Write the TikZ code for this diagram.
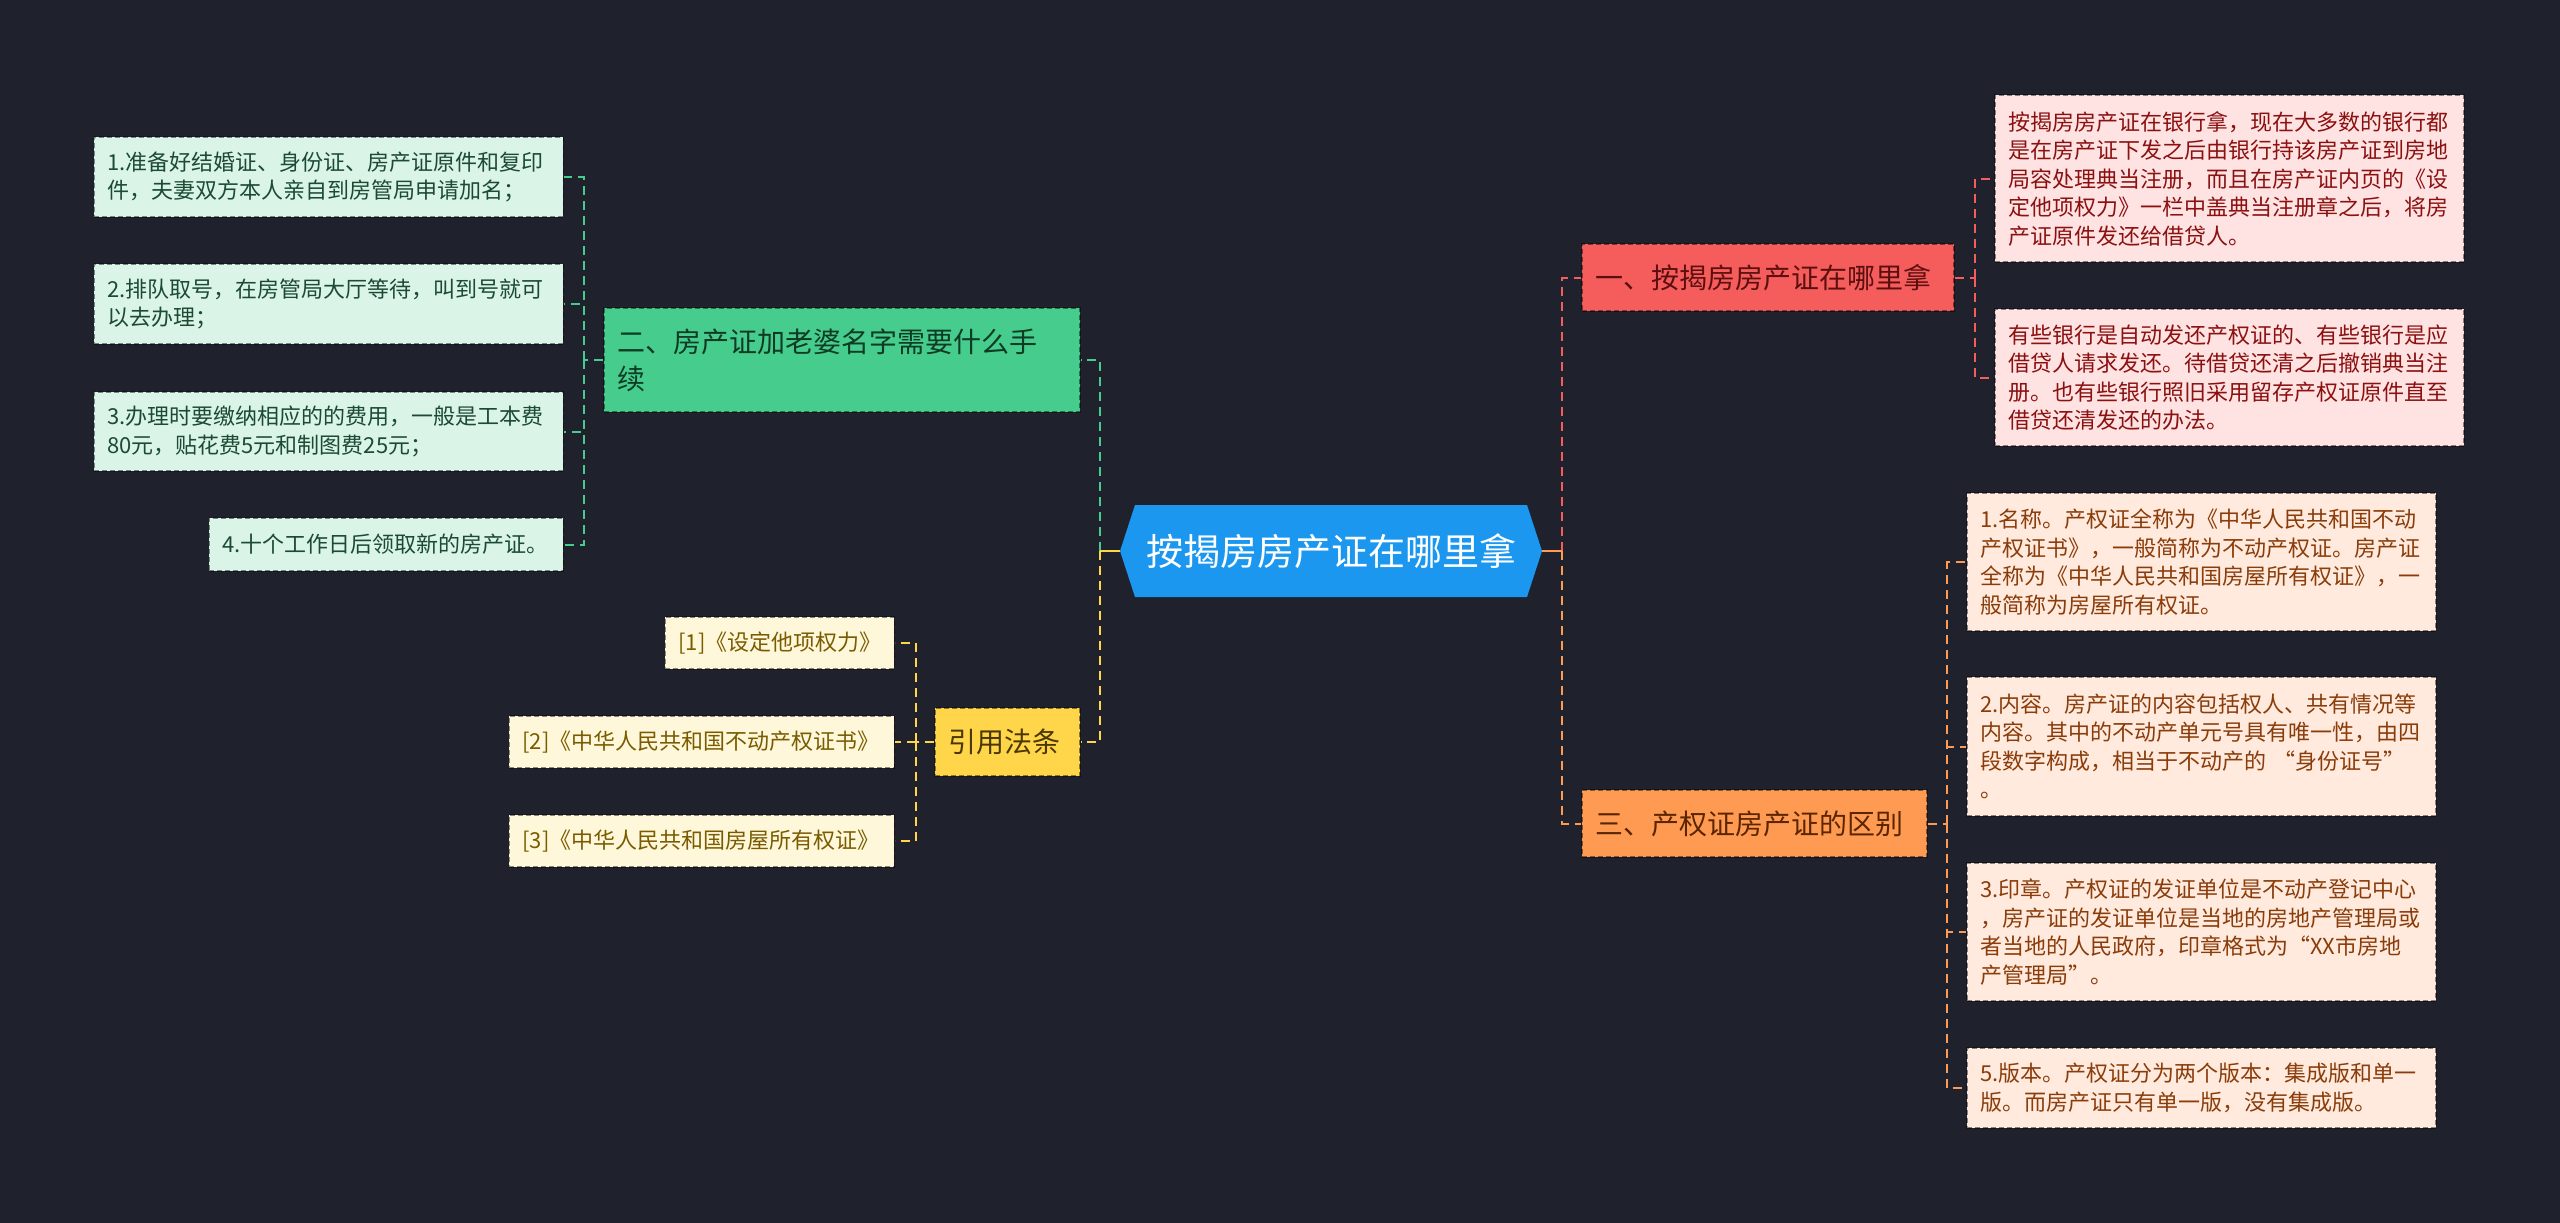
\documentclass[tikz,border=0pt]{standalone}
\usepackage{fontspec}
\setmainfont{Noto Sans CJK SC}
\definecolor{bgc}{HTML}{1F222D}
\definecolor{cblue}{HTML}{1C97EF}
\definecolor{redn}{HTML}{F55C5C}
\definecolor{redt}{HTML}{5C0F0F}
\definecolor{pinkf}{HTML}{FFE3E3}
\definecolor{pinkt}{HTML}{8B1010}
\definecolor{orn}{HTML}{FF9A52}
\definecolor{ort}{HTML}{5A2500}
\definecolor{peachf}{HTML}{FFEADD}
\definecolor{peacht}{HTML}{8A3C0A}
\definecolor{grn}{HTML}{46CC8C}
\definecolor{grt}{HTML}{0E3B23}
\definecolor{mintf}{HTML}{DAF5E8}
\definecolor{mintt}{HTML}{1C4A33}
\definecolor{yln}{HTML}{FFD54A}
\definecolor{ylt}{HTML}{4A3800}
\definecolor{creamf}{HTML}{FFF7D9}
\definecolor{creamt}{HTML}{7A5C00}
\begin{document}
\begin{tikzpicture}[x=1pt,y=-1pt,
  box/.style={rectangle, inner xsep=13pt, inner ysep=0pt, align=left,
    draw=black, draw opacity=0.45, dash pattern=on 5pt off 3pt, line width=1.3pt},
  topic/.style={box, font=\fontsize{28}{37}\selectfont},
  leaf/.style={box, font=\fontsize{22}{28.5}\selectfont},
  conn/.style={line width=2pt, dash pattern=on 9pt off 6pt}]
\fill[bgc] (0,0) rectangle (2560,1223);
\useasboundingbox (0,0) rectangle (2560,1223);

% central
\fill[cblue] (1120,551) -- (1135,505) -- (1527,505) -- (1542,551) -- (1527,597) -- (1135,597) -- cycle;
\node[font=\fontsize{37}{44}\selectfont, text=white, minimum width=422pt, minimum height=92pt, inner sep=0pt] (c) at (1331,551) {按揭房房产证在哪里拿};

% level 1
\node[topic, fill=redn, text=redt, text width=346pt, minimum height=67pt] (r1) at (1768,277.5) {一、按揭房房产证在哪里拿};
\node[topic, fill=orn, text=ort, text width=319pt, minimum height=67pt] (o1) at (1754.5,823.5) {三、产权证房产证的区别};
\node[topic, fill=grn, text=grt, text width=450pt, minimum height=104pt] (g1) at (842,360) {二、房产证加老婆名字需要什么手\\续};
\node[topic, fill=yln, text=ylt, text width=119pt, minimum height=68pt] (y1) at (1007.5,742) {引用法条};

% red leaves
\node[leaf, fill=pinkf, text=pinkt, text width=443pt, minimum height=167pt] (rc1) at (2229.5,178.5) {按揭房房产证在银行拿，现在大多数的银行都\\是在房产证下发之后由银行持该房产证到房地\\局容处理典当注册，而且在房产证内页的《设\\定他项权力》一栏中盖典当注册章之后，将房\\产证原件发还给借贷人。};
\node[leaf, fill=pinkf, text=pinkt, text width=443pt, minimum height=137pt] (rc2) at (2229.5,377.5) {有些银行是自动发还产权证的、有些银行是应\\借贷人请求发还。待借贷还清之后撤销典当注\\册。也有些银行照旧采用留存产权证原件直至\\借贷还清发还的办法。};

% orange leaves
\node[leaf, fill=peachf, text=peacht, text width=443pt, minimum height=138pt] (oc1) at (2201.5,562) {1.名称。产权证全称为《中华人民共和国不动\\产权证书》，一般简称为不动产权证。房产证\\全称为《中华人民共和国房屋所有权证》，一\\般简称为房屋所有权证。};
\node[leaf, fill=peachf, text=peacht, text width=443pt, minimum height=139pt] (oc2) at (2201.5,746.5) {2.内容。房产证的内容包括权人、共有情况等\\内容。其中的不动产单元号具有唯一性，由四\\段数字构成，相当于不动产的 “身份证号”\\。};
\node[leaf, fill=peachf, text=peacht, text width=443pt, minimum height=138pt] (oc3) at (2201.5,932) {3.印章。产权证的发证单位是不动产登记中心\\，房产证的发证单位是当地的房地产管理局或\\者当地的人民政府，印章格式为“XX市房地\\产管理局”。};
\node[leaf, fill=peachf, text=peacht, text width=443pt, minimum height=80pt] (oc4) at (2201.5,1088) {5.版本。产权证分为两个版本：集成版和单一\\版。而房产证只有单一版，没有集成版。};

% green leaves
\node[leaf, fill=mintf, text=mintt, text width=443pt, minimum height=80pt, anchor=east] (gc1) at (564,177) {1.准备好结婚证、身份证、房产证原件和复印\\件，夫妻双方本人亲自到房管局申请加名；};
\node[leaf, fill=mintf, text=mintt, text width=443pt, minimum height=80pt, anchor=east] (gc2) at (564,304) {2.排队取号，在房管局大厅等待，叫到号就可\\以去办理；};
\node[leaf, fill=mintf, text=mintt, text width=443pt, minimum height=79pt, anchor=east] (gc3) at (564,431.5) {3.办理时要缴纳相应的的费用，一般是工本费\\80元，贴花费5元和制图费25元；};
\node[leaf, fill=mintf, text=mintt, text width=328pt, minimum height=53pt, anchor=east] (gc4) at (564,544.5) {4.十个工作日后领取新的房产证。};

% yellow leaves
\node[leaf, fill=creamf, text=creamt, text width=203pt, minimum height=52pt, anchor=east] (yc1) at (895,643) {[1]《设定他项权力》};
\node[leaf, fill=creamf, text=creamt, text width=359pt, minimum height=52pt, anchor=east] (yc2) at (895,742) {[2]《中华人民共和国不动产权证书》};
\node[leaf, fill=creamf, text=creamt, text width=359pt, minimum height=52pt, anchor=east] (yc3) at (895,841) {[3]《中华人民共和国房屋所有权证》};

% junctions
\coordinate (jl) at (1100,551);
\coordinate (jr) at (1562,551);
\coordinate (jg) at (584,360);
\coordinate (jy) at (916,742);
\coordinate (jrr) at (1975,277.5);
\coordinate (jo) at (1947,823.5);

% connectors from centre
\draw[grn, conn] (jl) |- (g1.east);
\draw[yln, conn] (jl) |- (y1.east);
\draw[yln, line width=2pt] (c.west) -- (jl);
\draw[redn, conn] (jr) |- (r1.west);
\draw[orn, conn] (jr) |- (o1.west);
\draw[orn, line width=2pt] (c.east) -- (jr);

% green branch
\draw[grn, conn] (g1.west) -- (jg);
\foreach \n in {gc1,gc2,gc3,gc4} \draw[grn, conn] (jg) |- (\n.east);
% yellow branch
\draw[yln, conn] (y1.west) -- (jy);
\foreach \n in {yc1,yc2,yc3} \draw[yln, conn] (jy) |- (\n.east);
% red branch
\draw[redn, conn] (r1.east) -- (jrr);
\foreach \n in {rc1,rc2} \draw[redn, conn] (jrr) |- (\n.west);
% orange branch
\draw[orn, conn] (o1.east) -- (jo);
\foreach \n in {oc1,oc2,oc3,oc4} \draw[orn, conn] (jo) |- (\n.west);
\end{tikzpicture}
\end{document}
